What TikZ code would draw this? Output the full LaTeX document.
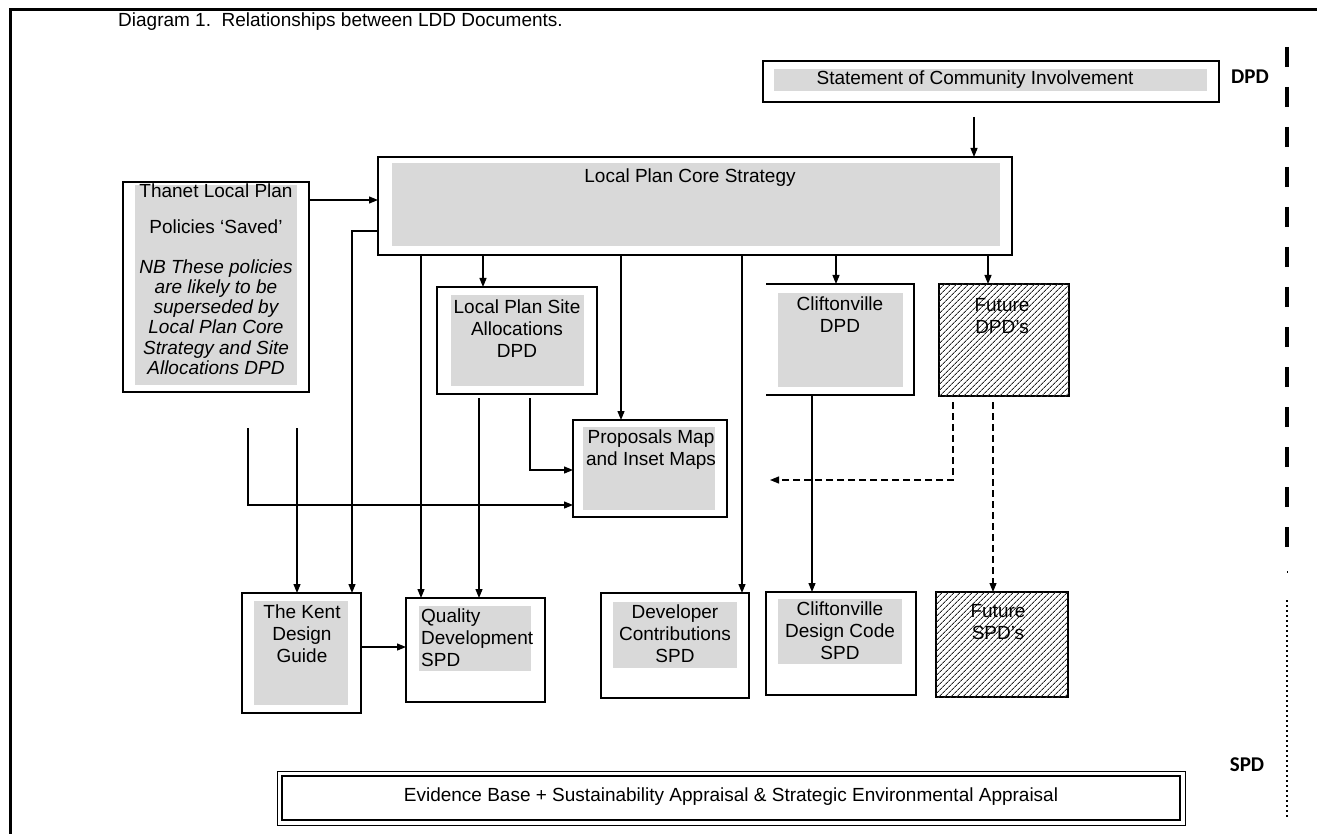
\documentclass[tikz,border=0pt]{standalone}
\usepackage{fontspec}
\setmainfont{Liberation Sans}
\newfontfamily\lblfont{Carlito}
\usetikzlibrary{arrows.meta,patterns.meta,calc}
\definecolor{greyfill}{RGB}{217,217,217}
\begin{document}
\begin{tikzpicture}[x=1pt,y=1pt,
 box/.style={draw, line width=1.4pt, fill=white, inner sep=0pt, outer sep=0pt, anchor=north west},
 greybox/.style={fill=greyfill, inner sep=0pt, outer sep=0pt, anchor=north west},
 hatchbox/.style={draw, line width=1.2pt, fill=white, inner sep=0pt, outer sep=0pt, anchor=north west,
   postaction={pattern={Lines[angle=45,distance=4pt,line width=0.9pt]}, pattern color=black!85}},
 txt/.style={font=\fontsize{19}{22}\selectfont, align=center, inner sep=0pt},
 arr/.style={-{Triangle[length=9pt,width=7pt]}, line width=1.2pt},
 darr/.style={arr, dash pattern=on 7pt off 4pt},
 lbl/.style={font=\lblfont\bfseries\fontsize{21}{24}\selectfont, inner sep=0pt}
]
\fill[white] (0,-834) rectangle (1317,0);
\useasboundingbox (0,-834) rectangle (1317,0);

% frame
\draw[line width=3pt] (10,-834) -- (10,-10) -- (1317,-10);

% title
\node[anchor=west, txt] (title) at (118,-22) {Diagram 1.\ \ Relationships between LDD Documents.};

% x / y helper coordinates
\coordinate (X974) at (974,0);
\coordinate (X352) at (352,0);
\coordinate (X421) at (421,0);
\coordinate (X483) at (483,0);
\coordinate (X621) at (621,0);
\coordinate (X742) at (742,0);
\coordinate (X836) at (836,0);
\coordinate (X988) at (988,0);
\coordinate (X479) at (479,0);
\coordinate (X530) at (530,0);
\coordinate (X248) at (248,0);
\coordinate (X297) at (297,0);
\coordinate (X812) at (812,0);
\coordinate (X953) at (953,0);
\coordinate (X993) at (993,0);
\coordinate (Y200) at (0,-200);
\coordinate (Y231) at (0,-231);
\coordinate (Y470) at (0,-470);
\coordinate (Y505) at (0,-505);
\coordinate (Y647) at (0,-647);
\coordinate (dashend) at (770,-480);

% Statement of Community Involvement
\node[box, minimum width=456pt, minimum height=41pt] (sci) at (763,-61) {};
\node[greybox, minimum width=433pt, minimum height=22pt] (scig) at (774,-69) {};
\node[txt] (scit) at (975,-80) {Statement of Community Involvement};

% Core strategy
\node[box, minimum width=634pt, minimum height=98pt] (core) at (378,-157) {};
\node[greybox, minimum width=608pt, minimum height=83pt] (coreg) at (392,-163) {};
\node[txt] (coret) at (690,-178) {Local Plan Core Strategy};

% Thanet
\node[box, minimum width=186pt, minimum height=210pt] (thanet) at (123,-182) {};
\node[greybox, minimum width=162pt, minimum height=200pt] (thanetg) at (135,-185) {};
\node[txt] (thanetA) at (216,-191) {Thanet Local Plan};
\node[txt] (thanetB) at (216,-227) {Policies `Saved'};
\node[txt, font=\fontsize{19}{20.2}\selectfont\itshape] (thanetC) at (216,-317)
  {NB These policies\\are likely to be\\superseded by\\Local Plan Core\\Strategy and Site\\Allocations DPD};

% Site allocations
\node[box, minimum width=160pt, minimum height=107pt] (site) at (437,-287) {};
\node[greybox, minimum width=133pt, minimum height=91pt] (siteg) at (451,-295) {};
\node[txt] (sitet) at (517,-329) {Local Plan Site\\Allocations\\DPD};

% Cliftonville DPD (left side not drawn)
\node[inner sep=0pt, outer sep=0pt, anchor=north west, fill=white, minimum width=148pt, minimum height=111pt] (clifdpd) at (766,-284) {};
\draw[line width=1.4pt] (clifdpd.north west) -- (clifdpd.north east) -- (clifdpd.south east) -- (clifdpd.south west);
\node[greybox, minimum width=125pt, minimum height=94pt] (clifdpdg) at (778,-293) {};
\node[txt] (clifdpdt) at (840,-315) {Cliftonville\\DPD};

% Future DPD's
\node[hatchbox, minimum width=130pt, minimum height=112pt] (futdpd) at (939,-284) {};
\node[txt] (futdpdt) at (1002,-316) {Future\\DPD's};

% Proposals map
\node[box, minimum width=154pt, minimum height=97pt] (props) at (573,-420) {};
\node[greybox, minimum width=132pt, minimum height=83pt] (propsg) at (583,-427) {};
\node[txt] (propst) at (651,-450) {Proposals Map\\and Inset Maps};

% Kent design guide
\node[box, minimum width=119pt, minimum height=120pt] (kent) at (242,-593) {};
\node[greybox, minimum width=94pt, minimum height=104pt] (kentg) at (254,-601) {};
\node[txt] (kentt) at (302,-634) {The Kent\\Design\\Guide};

% Quality development SPD
\node[box, minimum width=139pt, minimum height=104pt] (qd) at (406,-598) {};
\node[greybox, minimum width=112pt, minimum height=65pt] (qdg) at (419,-606) {};
\node[txt, align=left, anchor=west] (qdt) at (421,-638) {Quality\\Development\\SPD};

% Developer contributions SPD
\node[box, minimum width=148pt, minimum height=105pt] (dev) at (601,-593) {};
\node[greybox, minimum width=124pt, minimum height=66pt] (devg) at (613,-602) {};
\node[txt] (devt) at (675,-634) {Developer\\Contributions\\SPD};

% Cliftonville design code SPD
\node[box, minimum width=150pt, minimum height=103pt] (clifsd) at (766,-592) {};
\node[greybox, minimum width=124pt, minimum height=65pt] (clifsdg) at (778,-599) {};
\node[txt] (clifsdt) at (840,-631) {Cliftonville\\Design Code\\SPD};

% Future SPD's
\node[hatchbox, minimum width=132pt, minimum height=105pt] (futspd) at (936,-592) {};
\node[txt] (futspdt) at (998,-622) {Future\\SPD's};

% Evidence base (double border)
\node[draw, line width=1pt, inner sep=0pt, outer sep=0pt, anchor=north west, minimum width=908pt, minimum height=54pt] (evid) at (277,-771) {};
\draw[line width=2pt] ([shift={(5,-5)}]evid.north west) rectangle ([shift={(-5,5)}]evid.south east);
\node[txt] (evidt) at (731,-797) {Evidence Base + Sustainability Appraisal \& Strategic Environmental Appraisal};

% DPD / SPD labels and separator
\node[lbl] (dpdl) at (1250,-77) {DPD};
\node[lbl] (spdl) at (1247,-765) {SPD};
\draw[line width=4pt, dash pattern=on 20pt off 20pt] (1287,-47) -- (1287,-553);
\draw[line width=1pt] (1287,-571) -- (1287,-573);
\draw[line width=2.6pt, dash pattern=on 2pt off 3pt] (1287,-600) -- (1287,-818);

% connectors
\draw[arr, shorten <=15pt] (sci.south -| X974) -- (core.north -| X974);
\draw[arr] (thanet.east |- Y200) -- (core.west |- Y200);
\draw[arr] (core.west |- Y231) -| (kent.north -| X352);
\draw[arr] (core.south -| X421) -- (qd.north -| X421);
\draw[arr] (core.south -| X483) -- (site.north -| X483);
\draw[arr] (core.south -| X621) -- (props.north -| X621);
\draw[arr] (core.south -| X742) -- (dev.north -| X742);
\draw[arr] (core.south -| X836) -- (clifdpd.north -| X836);
\draw[arr] (core.south -| X988) -- (futdpd.north -| X988);
\draw[arr, shorten <=4pt] (site.south -| X479) -- (qd.north -| X479);
\draw[arr, shorten <=4pt] (site.south -| X530) |- (props.west |- Y470);
\draw[arr, shorten <=36pt] (thanet.south -| X248) |- (props.west |- Y505);
\draw[arr, shorten <=36pt] (thanet.south -| X297) -- (kent.north -| X297);
\draw[arr] (kent.east |- Y647) -- (qd.west |- Y647);
\draw[arr] (clifdpd.south -| X812) -- (clifsd.north -| X812);
\draw[darr, shorten <=6pt] (futdpd.south -| X953) |- (dashend);
\draw[darr, shorten <=6pt] (futdpd.south -| X993) -- (futspd.north -| X993);
\end{tikzpicture}
\end{document}
